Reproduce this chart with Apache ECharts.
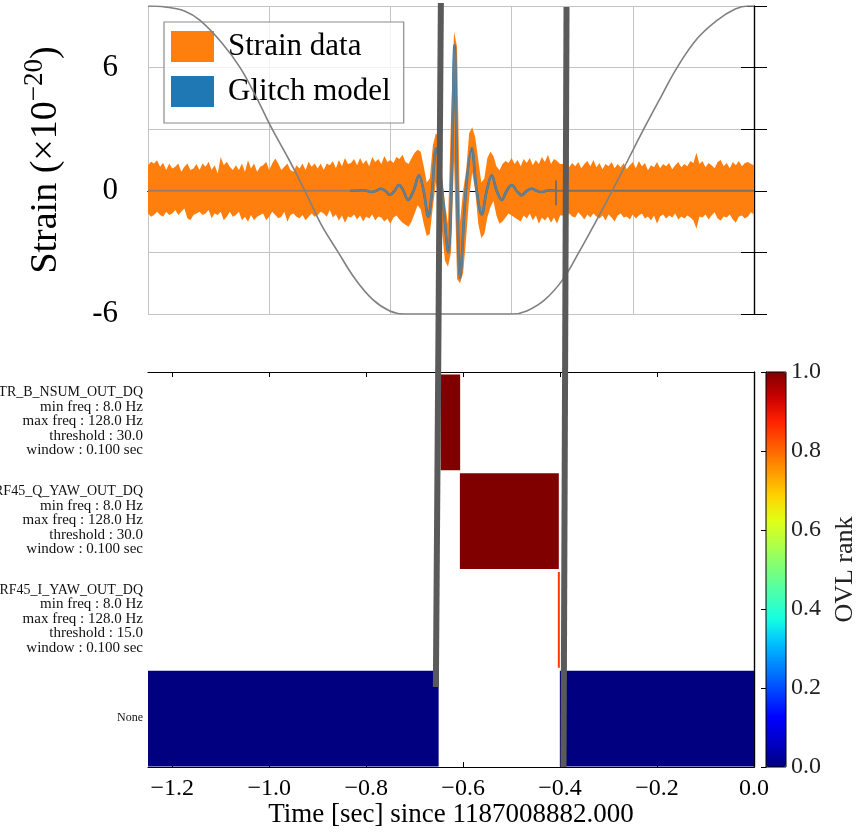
<!DOCTYPE html>
<html><head><meta charset="utf-8">
<script src="https://cdn.jsdelivr.net/npm/echarts@6.0.0/dist/echarts.min.js"></script>
<style>html,body{margin:0;padding:0;background:#fff}#c{width:860px;height:832px}</style>
</head><body><div id="c"></div><script>
// ---------- top panel: strain data envelope (sampled every 0.005 s from -1.0) ----------
const strainT0 = -1.0, strainDt = 0.005;
const strainHi = [
 1.25,1.41,1.33,1.49,1.17,1.36,1.01,1.33,1.09,1.17,
 1.33,0.93,1.17,1.33,1.01,1.09,1.30,1.01,1.33,1.17,
 1.41,1.01,1.25,0.84,1.65,1.25,1.41,1.17,1.01,1.25,
 1.01,1.33,0.93,1.49,1.09,1.33,0.93,1.17,1.25,1.41,
 1.01,1.33,1.57,1.33,1.01,1.17,1.33,1.01,0.93,1.25,
 1.09,1.33,1.01,1.41,1.17,1.33,1.09,1.33,1.01,1.33,
 1.25,1.45,1.10,1.50,1.20,1.60,1.30,
 1.35,1.55,1.25,1.60,1.30,1.50,1.20,1.65,1.40,1.55,
 1.30,1.70,1.40,1.50,1.35,1.65,1.55,1.75,1.40,1.30,
 1.60,1.85,2.00,1.90,1.20,0.40,0.60,2.20,2.80,2.60,
 0.80,-0.60,-1.60,3.50,7.75,7.00,-1.50,0.00,1.00,2.80,
 3.10,2.60,1.50,0.40,0.60,1.60,1.90,1.70,1.20,1.00,
 1.30,1.45,1.35,1.60,1.30,1.50,1.20,1.55,1.35,1.60,
 1.25,1.50,1.30,1.65,1.40,1.75,1.30,1.55,1.45,1.30,
 1.30,1.45,1.15,1.35,1.20,1.40,1.10,1.30,1.45,1.20,
 1.50,1.15,1.35,1.05,1.30,1.20,1.40,1.10,1.30,1.15,
 1.35,1.05,1.25,1.40,1.10,1.45,1.20,1.35,1.00,1.25,
 1.15,1.40,1.10,1.30,1.20,1.35,1.05,1.25,1.40,1.15,
 1.30,1.20,1.45,1.35,1.85,1.30,1.45,1.15,1.35,1.25,
 1.10,1.40,1.50,1.20,1.35,1.10,1.40,1.25,1.45,1.20,
 1.35,1.40,1.30,1.25
];
const strainLo = [
 -1.10,-1.26,-1.18,-1.02,-1.18,-1.26,-1.02,-1.18,-1.10,-0.94,
 -1.18,-1.02,-0.86,-1.34,-1.43,-1.18,-1.10,-1.02,-1.18,-1.10,
 -0.94,-1.34,-1.10,-1.18,-1.02,-1.43,-1.26,-1.02,-1.26,-1.18,
 -1.02,-1.43,-1.26,-1.51,-1.18,-1.43,-1.26,-1.18,-1.10,-1.43,
 -1.26,-1.02,-1.18,-1.34,-1.26,-1.02,-1.51,-1.18,-1.10,-1.26,
 -1.34,-1.18,-1.43,-1.26,-1.10,-1.26,-1.18,-1.02,-1.10,-1.26,
 -0.94,-1.30,-1.15,-1.45,-1.20,-1.55,-1.25,
 -1.30,-1.15,-1.40,-1.20,-1.50,-1.25,-1.35,-1.15,-1.45,-1.25,
 -1.30,-1.50,-1.35,-1.60,-1.30,-1.20,-1.40,-1.55,-1.65,-1.75,
 -1.50,-1.10,-0.70,-0.90,-1.60,-2.20,-2.10,-0.80,0.40,-0.50,
 -1.90,-3.40,-3.70,-3.00,1.50,-4.30,-4.50,-4.00,-2.30,-0.30,
 0.90,0.00,-1.60,-2.30,-2.10,-1.30,-0.80,-0.50,-1.20,-1.60,
 -1.50,-1.30,-1.10,-1.20,-1.30,-1.40,-1.50,-1.20,-1.35,-1.10,
 -1.45,-1.20,-1.60,-1.30,-1.45,-1.25,-1.55,-1.30,-1.60,-1.20,
 -1.20,-1.35,-1.10,-1.25,-1.30,-1.05,-1.20,-1.40,-1.15,-1.30,
 -1.10,-1.25,-1.35,-1.20,-1.45,-1.15,-1.30,-1.50,-1.20,-1.10,
 -1.30,-1.25,-1.40,-1.15,-1.35,-1.20,-1.10,-1.35,-1.25,-1.45,
 -1.20,-1.60,-1.25,-1.15,-1.35,-1.20,-1.30,-1.10,-1.40,-1.25,
 -1.35,-1.20,-1.30,-1.45,-1.85,-1.25,-1.30,-1.15,-1.40,-1.20,
 -1.05,-1.35,-1.45,-1.25,-1.30,-1.15,-1.40,-1.55,-1.25,-1.20,
 -1.35,-1.25,-1.05,-1.15
];
// ---------- glitch model ----------
const glitchT = [-0.6667,-0.6570,-0.6474,-0.6392,-0.6309,-0.6235,-0.6160,-0.6084,-0.6007,-0.5933,
 -0.5858,-0.5784,-0.5710,-0.5619,-0.5528,-0.5452,-0.5375,-0.5312,-0.5248,-0.5147,
 -0.5045,-0.4994,-0.4942,-0.4897,-0.4851,-0.4755,-0.4658,-0.4576,-0.4493,-0.4411,
 -0.4328,-0.4246,-0.4163,-0.4081,-0.3998,-0.3916,-0.3833,-0.3751,-0.3668,-0.3586,
 -0.3503,-0.3427,-0.3350,-0.3267];
const glitchV = [0,0,0.03,0,-0.06,0,0.10,0,-0.20,0,
 0.28,0,-0.45,0,0.76,0,-1.26,0,2.07,0,
 -3.0,0,7.1,0,-4.24,0,2.07,0,-1.15,0,
 0.76,0,-0.45,0,0.28,0,-0.22,0,0.10,0,
 -0.06,0,0.03,0];
const glitchEndV = [0.5, -0.7];
// ---------- gating window curve ----------
const windowT = [-1.000,-0.972,-0.939,-0.914,-0.878,-0.848,-0.822,-0.795,-0.767,-0.741,-0.715,-0.686,-0.658,-0.629,-0.601,-0.576,
 -0.399,-0.375,-0.345,-0.315,-0.289,-0.261,-0.234,-0.208,-0.182,-0.153,-0.127,-0.094,-0.061,-0.031,-0.010,0.000];
const windowV = [9.0,8.95,8.75,8.3,7.2,6.0,4.6,3.0,1.5,0.0,-1.6,-3.0,-4.3,-5.3,-5.85,-6.0,
 -6.0,-5.85,-5.3,-4.3,-3.0,-1.5,0.0,1.5,3.0,4.6,6.0,7.4,8.3,8.85,9.0,9.0];
// ---------- bottom panel: OVL segments ----------
const channels = ['TR_B_NSUM_OUT_DQ','RF45_Q_YAW_OUT_DQ','RF45_I_YAW_OUT_DQ'];
const minFreqs = ['8.0','8.0','8.0'];
const maxFreqs = ['128.0','128.0','128.0'];
const thresholds = ['30.0','30.0','15.0'];
const windowsSec = ['0.100','0.100','0.100'];
const segStart = [-0.6465,-0.6067,-0.4046,-1.25,-0.4005];
const segEnd   = [-0.6061,-0.4026,-0.4005,-0.6505,0.0];
const segRow   = [0,1,2,3,3];
const segRank  = [1.0,1.0,0.85,0.0,0.0];
const timeTicks = [-1.2,-1.0,-0.8,-0.6,-0.4,-0.2,0.0];
const rankTicks = [0,0.2,0.4,0.6,0.8,1.0];
// ---------- connector lines (time at top, time at bottom; vertical fraction) ----------
const connLeftT = [-0.6459,-0.6562], connLeftY = [1.004,0.105];
const connRightT = [-0.3867,-0.3929], connRightY = [0.9987,0.0];

const F = 'Liberation Serif';
const jet = ['#000080','#0000c8','#0000ff','#0040ff','#0080ff','#00bfff','#15ffe2','#48ffaf','#7bff7b',
 '#afff48','#e2ff15','#ffd200','#ff9700','#ff5c00','#ff2100','#c80000','#800000'];

const strainTimes = strainHi.map((v,i)=>+(strainT0+i*strainDt).toFixed(4));
const glitchData = glitchT.map((t,i)=>[t, glitchV[i]]);
const grayData = [[-1,0]].concat(glitchData);
const endT = glitchT[glitchT.length-1];
const tailData = [[endT,glitchEndV[0]],[endT,glitchEndV[1]],[endT,0],[0,0]];
const windowData = windowT.map((t,i)=>[t, windowV[i]]);
const rowLabels = channels.map((c,i)=>c+'\nmin freq : '+minFreqs[i]+' Hz\nmax freq : '+maxFreqs[i]+' Hz\nthreshold : '+thresholds[i]+'\nwindow : '+windowsSec[i]+' sec').concat(['None']);
const segData = segStart.map((s,i)=>[s, segEnd[i], segRow[i], segRank[i]]);

const chart = echarts.init(document.getElementById('c'));
const blackLine = {show:true, lineStyle:{color:'#000', width:1.2}};
chart.setOption({
  animation:false,
  backgroundColor:'#fff',
  grid:[
    {left:148, top:6, width:606, height:308, outerBoundsMode:'none', containLabel:false},
    {left:148, top:372, width:606, height:395, outerBoundsMode:'none', containLabel:false},
    {left:148, top:6, width:606, height:761, outerBoundsMode:'none', containLabel:false},
    {left:766, top:372, width:20, height:395, show:true, borderColor:'#000', borderWidth:1, backgroundColor:'transparent', z:10, outerBoundsMode:'none', containLabel:false}
  ],
  legend:{
    data:[{name:'Strain data', icon:'rect'},{name:'Glitch model', icon:'rect'}],
    orient:'vertical', left:164, top:22, itemWidth:43, itemHeight:31, itemGap:14,
    padding:[9,13,16,7], borderColor:'#8c8c8c', borderWidth:1.2, backgroundColor:'rgba(255,255,255,0.8)',
    textStyle:{fontFamily:F, fontSize:31, color:'#000', padding:[0,0,0,9]}, selectedMode:false
  },
  xAxis:[
    {gridIndex:0, type:'value', min:-1, max:0, interval:0.1, position:'bottom', axisLine:blackLine,
     axisTick:{show:true, inside:false, length:8, lineStyle:{color:'#000'}}, axisLabel:{show:false}, splitLine:{show:false}},
    {gridIndex:0, type:'value', min:-1, max:0, interval:0.2, position:'top', axisLine:blackLine,
     axisTick:{show:false}, axisLabel:{show:false}, splitLine:{show:true, lineStyle:{color:'#c4c4c4', width:1}}},
    {gridIndex:1, type:'value', min:-1.25, max:0, position:'bottom', axisLine:blackLine,
     axisTick:{show:true, inside:true, length:5, customValues:timeTicks, lineStyle:{color:'#000'}},
     axisLabel:{show:true, customValues:timeTicks, margin:10, fontFamily:F, fontSize:24, color:'#000',
       formatter:v=> Math.abs(v)<1e-9 ? '0.0' : '\u2212'+Math.abs(v).toFixed(1)},
     splitLine:{show:false},
     name:'Time [sec] since 1187008882.000', nameLocation:'middle', nameGap:32,
     nameTextStyle:{fontFamily:F, fontSize:27, color:'#000'}},
    {gridIndex:1, type:'value', min:-1.25, max:0, position:'top', axisLine:blackLine,
     axisTick:{show:true, inside:true, length:5, customValues:timeTicks, lineStyle:{color:'#000'}},
     axisLabel:{show:false}, splitLine:{show:false}},
    {gridIndex:2, type:'value', min:-1.25, max:0, show:false},
    {gridIndex:3, type:'value', min:0, max:1, show:false}
  ],
  yAxis:[
    {gridIndex:0, type:'value', min:-6, max:9, interval:3, position:'left', axisLine:blackLine,
     axisTick:{show:true, inside:false, length:13, lineStyle:{color:'#000'}},
     axisLabel:{margin:30, fontFamily:F, fontSize:31, color:'#000',
       formatter:v=> (v%6!==0) ? '' : (v<0 ? '-'+Math.abs(v) : String(v))},
     splitLine:{show:true, lineStyle:{color:'#c4c4c4', width:1}},
     name:'Strain (\u00d710{sup|\u221220})', nameLocation:'middle', nameGap:76,
     nameTextStyle:{fontFamily:F, fontSize:38, color:'#000',
       rich:{sup:{fontFamily:F, fontSize:27, color:'#000', verticalAlign:'bottom', padding:[0,0,24,0]}}}},
    {gridIndex:0, type:'value', min:-6, max:9, interval:3, position:'right', axisLine:blackLine,
     axisTick:{show:true, inside:false, length:13, lineStyle:{color:'#000'}}, axisLabel:{show:false}, splitLine:{show:false}},
    {gridIndex:1, type:'category', data:rowLabels, inverse:true, axisLine:blackLine, axisTick:{show:false},
     axisLabel:{margin:5, formatter:v=> v==='None' ? '{n|None}' : v.split('\n').map((l,k)=>(k===0?'{c|':'{a|')+l+'}').join('\n'),
       rich:{a:{fontFamily:F, fontSize:15, lineHeight:14.5, color:'#111', align:'right'},
             c:{fontFamily:F, fontSize:14, lineHeight:14.5, color:'#111', align:'right'},
             n:{fontFamily:F, fontSize:12, color:'#111'}}},
     splitLine:{show:false}},
    {gridIndex:1, type:'value', min:0, max:1, position:'right', axisLine:blackLine, axisTick:{show:false}, axisLabel:{show:false}, splitLine:{show:false}},
    {gridIndex:2, type:'value', min:0, max:1, show:false},
    {gridIndex:3, type:'value', min:0, max:1, position:'right', axisLine:{show:true, lineStyle:{color:'#000', width:1}},
     axisTick:{show:true, inside:true, length:5, customValues:rankTicks, lineStyle:{color:'#000'}},
     axisLabel:{customValues:rankTicks, margin:5, fontFamily:F, fontSize:24, color:'#222', formatter:v=>v.toFixed(1)},
     splitLine:{show:false},
     name:'OVL rank', nameLocation:'middle', nameGap:46, nameRotate:90,
     nameTextStyle:{fontFamily:F, fontSize:26, color:'#222'}}
  ],
  visualMap:[{
    type:'continuous', seriesIndex:6, dimension:3, min:0, max:1, inRange:{color:jet},
    orient:'vertical', left:766, top:372, itemWidth:20, itemHeight:395, calculable:false,
    padding:0, hoverLink:false, showLabel:false
  }],
  series:[
    {name:'Strain data', type:'custom', xAxisIndex:0, yAxisIndex:0, data:[[strainTimes[0], 0]], encode:{x:0, y:1},
     itemStyle:{color:'#ff7f0e'}, silent:true, z:2,
     renderItem:function(params, api){
       const pts = [];
       for (let i=0;i<strainTimes.length;i++) pts.push(api.coord([strainTimes[i], strainHi[i]]));
       for (let i=strainTimes.length-1;i>=0;i--) pts.push(api.coord([strainTimes[i], strainLo[i]]));
       return {type:'polygon', shape:{points:pts}, style:{fill:'#ff7f0e'}};
     }},
    {name:'Glitch model', type:'line', xAxisIndex:0, yAxisIndex:0, data:glitchData, smooth:0.35,
     symbol:'none', color:'#1f77b4', lineStyle:{color:'#1f77b4', width:2.6}, silent:true, z:3},
    {name:'modelGray', type:'line', xAxisIndex:0, yAxisIndex:0, data:grayData, smooth:0.35,
     symbol:'none', lineStyle:{color:'rgba(128,128,128,0.8)', width:2}, silent:true, z:4},
    {name:'tailGray', type:'line', xAxisIndex:0, yAxisIndex:0, data:tailData,
     symbol:'none', lineStyle:{color:'rgba(110,110,110,0.9)', width:2}, silent:true, z:4},
    {name:'window', type:'line', xAxisIndex:0, yAxisIndex:0, data:windowData, smooth:0.4,
     symbol:'none', lineStyle:{color:'#808080', width:1.6}, silent:true, z:5},
    {name:'connLeft', type:'line', xAxisIndex:4, yAxisIndex:4, data:connLeftT.map((t,i)=>[t,connLeftY[i]]),
     symbol:'none', clip:false, lineStyle:{color:'#5a5a5a', width:6, cap:'butt'}, silent:true, z:20},
    {name:'segments', type:'custom', xAxisIndex:2, yAxisIndex:2, data:segData, encode:{x:[0,1], y:2},
     renderItem:function(params, api){
       const s = api.coord([api.value(0), api.value(2)]);
       const e = api.coord([api.value(1), api.value(2)]);
       const h = api.size([0,1])[1];
       return {type:'rect', shape:{x:s[0], y:s[1]-h/2+2.5, width:e[0]-s[0], height:h-3},
               style:{fill:api.visual('color')}};
     }, silent:true, z:2},
    {name:'connRight', type:'line', xAxisIndex:4, yAxisIndex:4, data:connRightT.map((t,i)=>[t,connRightY[i]]),
     symbol:'none', clip:false, lineStyle:{color:'#5a5a5a', width:6, cap:'butt'}, silent:true, z:20}
  ]
});
</script></body></html>
